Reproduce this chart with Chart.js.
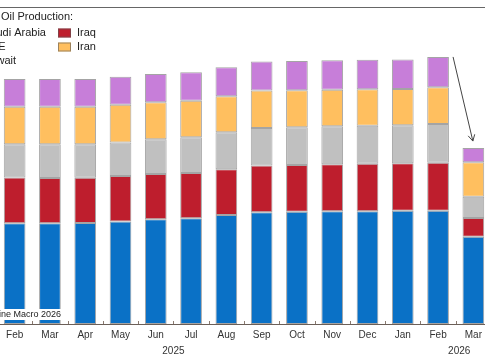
<!DOCTYPE html>
<html>
<head>
<meta charset="utf-8">
<script src="https://cdn.jsdelivr.net/npm/chart.js@4.4.1/dist/chart.umd.min.js"></script>
<style>
  html, body { margin: 0; padding: 0; background: #fff; overflow: hidden; width: 485px; height: 360px; position: relative; }
  #chart { position: absolute; left: -3px; top: 0; }
</style>
</head>
<body>
<canvas id="chart" width="494" height="360"></canvas>
<script>
// --- data (mb/d) ---
const months = ['Feb', 'Mar', 'Apr', 'May', 'Jun', 'Jul', 'Aug', 'Sep', 'Oct', 'Nov', 'Dec', 'Jan', 'Feb', 'Mar'];
const years = [{ label: '2025', at: 4.5 }, { label: '2026', at: 12.6 }];
const saudi  = [8.90, 8.90, 8.92, 9.05, 9.25, 9.34, 9.63, 9.87, 9.92, 9.96, 9.96, 10.01, 10.01, 7.71];
const iraq   = [4.03, 4.00, 4.00, 4.02, 4.00, 4.00, 4.04, 4.12, 4.13, 4.15, 4.20, 4.19, 4.24, 1.65];
const uae    = [2.95, 2.98, 2.95, 2.96, 3.07, 3.15, 3.27, 3.33, 3.33, 3.36, 3.36, 3.36, 3.42, 1.88];
const iran   = [3.32, 3.32, 3.32, 3.33, 3.27, 3.23, 3.18, 3.30, 3.27, 3.21, 3.22, 3.19, 3.24, 3.04];
const kuwait = [2.45, 2.45, 2.45, 2.48, 2.50, 2.51, 2.56, 2.56, 2.59, 2.62, 2.61, 2.61, 2.68, 1.26];

const COLORS = {
    saudi: '#0a71c6',
    iraq: '#be1e2d',
    uae: '#c0c0c0',
    iran: '#ffbf5f',
    kuwait: '#c77ed9'
};
const legendRows = [[0, 1], [2, 3], [4]];   // dataset indexes, two columns
const FONT = '"Liberation Sans", Arial, sans-serif';

const mkSet = (label, data, color) => ({
    label, data,
    backgroundColor: color,
    borderColor: 'rgba(90,90,90,0.55)',
    borderWidth: 1,
    borderSkipped: false,
    categoryPercentage: 0.615,
    barPercentage: 1
});

// custom drawing: frame top, inside ticks, year labels, legend, note, arrow
const decor = {
    id: 'decor',
    afterDraw(chart) {
        const { ctx, chartArea: a, scales: { x, y } } = chart;
        const step = x.getPixelForValue(1) - x.getPixelForValue(0);
        ctx.save();

        // top frame line
        ctx.strokeStyle = '#666';
        ctx.lineWidth = 1.2;
        ctx.beginPath();
        ctx.moveTo(a.left, a.top + 0.5);
        ctx.lineTo(a.right, a.top + 0.5);
        ctx.stroke();

        // small ticks between months, pointing up
        ctx.strokeStyle = '#8a7a70';
        ctx.lineWidth = 1;
        for (let i = 0; i <= months.length; i++) {
            const px = Math.round(x.getPixelForValue(i) - step / 2) + 0.5;
            ctx.beginPath();
            ctx.moveTo(px, a.bottom);
            ctx.lineTo(px, a.bottom - 3);
            ctx.stroke();
        }

        // years
        ctx.fillStyle = '#333';
        ctx.font = '10px ' + FONT;
        ctx.textAlign = 'center';
        ctx.textBaseline = 'middle';
        years.forEach(yr => ctx.fillText(yr.label, x.getPixelForValue(yr.at), 351));

        // legend
        ctx.textAlign = 'left';
        ctx.fillStyle = '#222';
        ctx.font = '11px ' + FONT;
        ctx.fillText('Oil Production:', 4, 17);
        const colX = [-14, 80];
        legendRows.forEach((row, r) => {
            const cy = 33 + r * 14;
            row.forEach((di, c) => {
                const ds = chart.data.datasets[di];
                ctx.fillStyle = ds.backgroundColor;
                ctx.fillRect(colX[c] - 19, cy - 4.5, 13, 9);
                ctx.strokeStyle = 'rgba(90,90,90,0.6)';
                ctx.strokeRect(colX[c] - 18.5, cy - 4, 12, 8);
                ctx.fillStyle = '#222';
                ctx.fillText(ds.label, colX[c], cy);
            });
        });

        // source note with white background
        ctx.font = '9px ' + FONT;
        const note = '\u00a9 Alpine Macro 2026';
        const w = ctx.measureText(note).width;
        const nx = 64 - w;
        ctx.fillStyle = '#fff';
        ctx.fillRect(nx - 2, 309, w + 3, 11);
        ctx.fillStyle = '#222';
        ctx.fillText(note, nx, 315);

        // arrow from Feb to Mar bar
        const last = months.length - 1;
        const sumAt = i => chart.data.datasets.reduce((s, d) => s + d.data[i], 0);
        const x0 = x.getPixelForValue(last - 1) + 15, y0 = y.getPixelForValue(sumAt(last - 1));
        const x1 = x.getPixelForValue(last) - 0.5, y1 = y.getPixelForValue(sumAt(last)) - 7;
        const ang = Math.atan2(y1 - y0, x1 - x0);
        ctx.strokeStyle = '#444';
        ctx.lineWidth = 1;
        ctx.beginPath();
        ctx.moveTo(x0, y0);
        ctx.lineTo(x1, y1);
        ctx.moveTo(x1 - 7 * Math.cos(ang - 0.5), y1 - 7 * Math.sin(ang - 0.5));
        ctx.lineTo(x1, y1);
        ctx.lineTo(x1 - 7 * Math.cos(ang + 0.5), y1 - 7 * Math.sin(ang + 0.5));
        ctx.stroke();

        ctx.restore();
    }
};

new Chart(document.getElementById('chart'), {
    type: 'bar',
    data: {
        labels: months,
        datasets: [
            mkSet('Saudi Arabia', saudi, COLORS.saudi),
            mkSet('Iraq', iraq, COLORS.iraq),
            mkSet('UAE', uae, COLORS.uae),
            mkSet('Iran', iran, COLORS.iran),
            mkSet('Kuwait', kuwait, COLORS.kuwait)
        ]
    },
    options: {
        responsive: false,
        animation: false,
        layout: { padding: { top: 7, bottom: 14, left: 0, right: 0 } },
        plugins: { legend: { display: false }, tooltip: { enabled: false } },
        scales: {
            x: {
                stacked: true,
                grid: { display: false, drawTicks: false, tickLength: 0 },
                border: { display: true, color: '#6b5f58', width: 1 },
                ticks: { color: '#333', font: { size: 10, family: FONT }, padding: 5, maxRotation: 0, autoSkip: false }
            },
            y: { stacked: true, display: false, min: 0, max: 28 }
        }
    },
    plugins: [decor]
});
</script>
</body>
</html>
